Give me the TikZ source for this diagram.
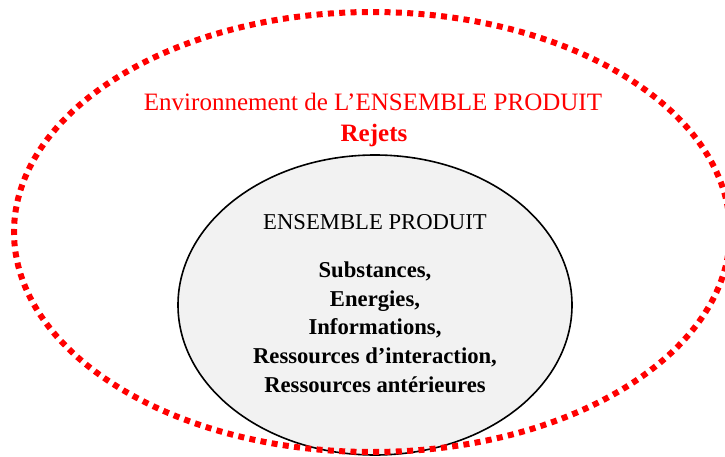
\documentclass[tikz,border=0pt]{standalone}
\usepackage{fontspec}
\setmainfont{Liberation Serif}
\usetikzlibrary{shapes.geometric}
\definecolor{fondgris}{HTML}{F2F2F2}
\begin{document}
\begin{tikzpicture}[x=0.75pt,y=-0.75pt,
    environ/.style={ellipse,draw=red,line width=4.5pt,dash pattern=on 4.5pt off 4pt,
                    minimum width=537pt,minimum height=330pt,inner sep=0pt},
    produit/.style={ellipse,draw=black,line width=1.2pt,fill=fondgris,
                    minimum width=295.5pt,minimum height=225pt,inner sep=0pt},
    rouge/.style={text=red,font=\fontsize{18.75}{22}\selectfont},
    noir/.style={text=black,font=\fontsize{17}{21.5}\selectfont,align=center}]
  \useasboundingbox (0,0) rectangle (725,457);
  % les deux ellipses
  \node[produit] (ens) at (375,305) {};
  \node[environ] (env) at (372,232) {};

  % textes de l'environnement
  \node[rouge] (titreenv) at (373,102) {Environnement de L’ENSEMBLE PRODUIT};
  \node[rouge,font=\fontsize{18.75}{22}\selectfont\bfseries] (rejets) at (374,135) {Rejets};

  % textes de l'ensemble produit
  \node[noir] (titreens) at (375,222) {ENSEMBLE PRODUIT};
  \node[noir,font=\fontsize{17}{21.5}\selectfont\bfseries] (liste) at (375,327)
    {Substances,\\Energies,\\Informations,\\Ressources d’interaction,\\Ressources antérieures};
\end{tikzpicture}
\end{document}
